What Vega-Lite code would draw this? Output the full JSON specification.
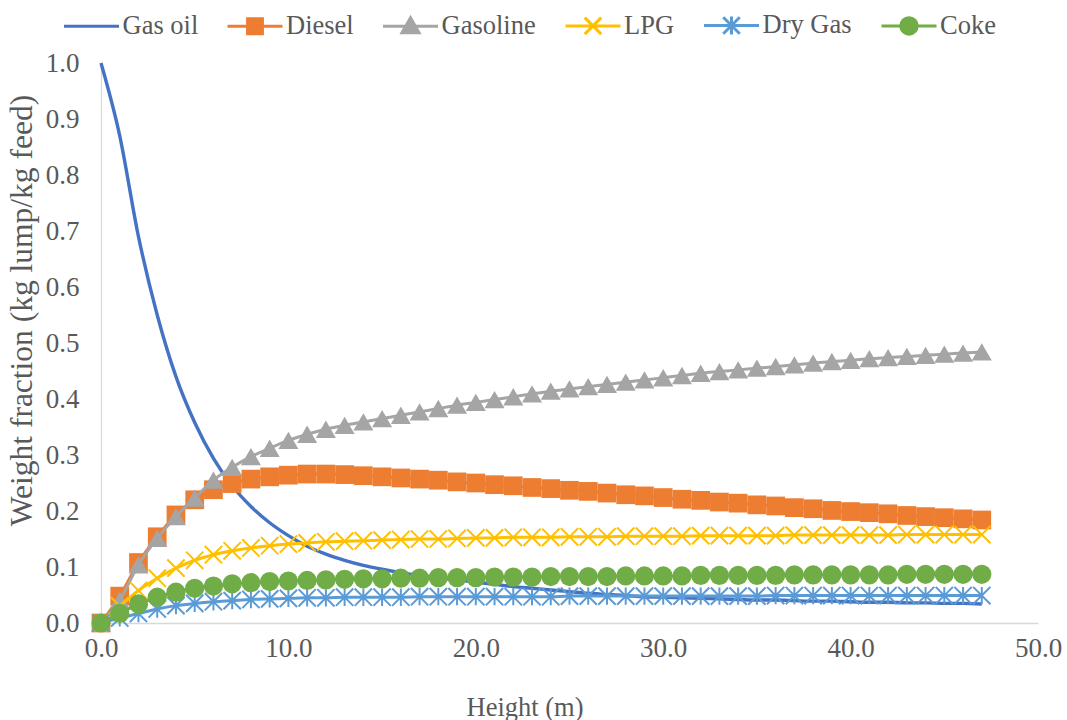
{
  "$schema": "https://vega.github.io/schema/vega-lite/v6.json",
  "width": 937,
  "height": 560,
  "autosize": {"type": "none"},
  "padding": {"left": 101, "top": 63, "right": 29, "bottom": 97},
  "background": "white",
  "config": {
    "view": {"stroke": null},
    "font": "'Liberation Serif', 'Times New Roman', serif",
    "axis": {
      "grid": false,
      "ticks": false,
      "domainColor": "#d9d9d9",
      "domainWidth": 1.3,
      "labelFont": "'Liberation Serif', 'Times New Roman', serif",
      "labelFontSize": 27,
      "labelColor": "#595959",
      "titleFont": "'Liberation Serif', 'Times New Roman', serif",
      "titleColor": "#595959",
      "titleFontWeight": "normal"
    },
    "legend": {
      "orient": "none",
      "legendX": -38.5,
      "legendY": -67,
      "direction": "horizontal",
      "padding": 0,
      "labelFont": "'Liberation Serif', 'Times New Roman', serif",
      "labelFontSize": 26.5,
      "labelColor": "#595959",
      "symbolSize": 3025,
      "symbolStrokeWidth": 3,
      "symbolOpacity": 1,
      "labelOffset": 2,
      "columnPadding": 22.5,
      "labelLimit": 300
    }
  },
  "data": {
    "values": [
      {"h": 0, "Gas oil": 1.000, "Diesel": 0.000, "Gasoline": 0.000, "LPG": 0.000, "Dry Gas": 0.000, "Coke": 0.000},
      {"h": 1, "Gas oil": 0.870, "Diesel": 0.048, "Gasoline": 0.041, "LPG": 0.030, "Dry Gas": 0.009, "Coke": 0.017},
      {"h": 2, "Gas oil": 0.690, "Diesel": 0.108, "Gasoline": 0.104, "LPG": 0.058, "Dry Gas": 0.017, "Coke": 0.034},
      {"h": 3, "Gas oil": 0.550, "Diesel": 0.154, "Gasoline": 0.151, "LPG": 0.080, "Dry Gas": 0.025, "Coke": 0.046},
      {"h": 4, "Gas oil": 0.440, "Diesel": 0.193, "Gasoline": 0.190, "LPG": 0.098, "Dry Gas": 0.031, "Coke": 0.055},
      {"h": 5, "Gas oil": 0.358, "Diesel": 0.220, "Gasoline": 0.223, "LPG": 0.112, "Dry Gas": 0.035, "Coke": 0.062},
      {"h": 6, "Gas oil": 0.294, "Diesel": 0.238, "Gasoline": 0.255, "LPG": 0.122, "Dry Gas": 0.038, "Coke": 0.066},
      {"h": 7, "Gas oil": 0.245, "Diesel": 0.249, "Gasoline": 0.278, "LPG": 0.129, "Dry Gas": 0.040, "Coke": 0.070},
      {"h": 8, "Gas oil": 0.208, "Diesel": 0.257, "Gasoline": 0.297, "LPG": 0.134, "Dry Gas": 0.042, "Coke": 0.072},
      {"h": 9, "Gas oil": 0.179, "Diesel": 0.261, "Gasoline": 0.312, "LPG": 0.138, "Dry Gas": 0.043, "Coke": 0.074},
      {"h": 10, "Gas oil": 0.156, "Diesel": 0.264, "Gasoline": 0.326, "LPG": 0.141, "Dry Gas": 0.044, "Coke": 0.075},
      {"h": 11, "Gas oil": 0.137, "Diesel": 0.266, "Gasoline": 0.337, "LPG": 0.143, "Dry Gas": 0.045, "Coke": 0.076},
      {"h": 12, "Gas oil": 0.123, "Diesel": 0.266, "Gasoline": 0.346, "LPG": 0.145, "Dry Gas": 0.045, "Coke": 0.077},
      {"h": 13, "Gas oil": 0.112, "Diesel": 0.265, "Gasoline": 0.353, "LPG": 0.146, "Dry Gas": 0.046, "Coke": 0.078},
      {"h": 14, "Gas oil": 0.103, "Diesel": 0.263, "Gasoline": 0.359, "LPG": 0.147, "Dry Gas": 0.046, "Coke": 0.079},
      {"h": 15, "Gas oil": 0.096, "Diesel": 0.261, "Gasoline": 0.365, "LPG": 0.148, "Dry Gas": 0.046, "Coke": 0.079},
      {"h": 16, "Gas oil": 0.090, "Diesel": 0.259, "Gasoline": 0.371, "LPG": 0.149, "Dry Gas": 0.046, "Coke": 0.080},
      {"h": 17, "Gas oil": 0.085, "Diesel": 0.257, "Gasoline": 0.377, "LPG": 0.150, "Dry Gas": 0.047, "Coke": 0.080},
      {"h": 18, "Gas oil": 0.081, "Diesel": 0.255, "Gasoline": 0.383, "LPG": 0.150, "Dry Gas": 0.047, "Coke": 0.081},
      {"h": 19, "Gas oil": 0.077, "Diesel": 0.252, "Gasoline": 0.389, "LPG": 0.151, "Dry Gas": 0.047, "Coke": 0.081},
      {"h": 20, "Gas oil": 0.073, "Diesel": 0.250, "Gasoline": 0.394, "LPG": 0.152, "Dry Gas": 0.047, "Coke": 0.081},
      {"h": 21, "Gas oil": 0.069, "Diesel": 0.247, "Gasoline": 0.399, "LPG": 0.152, "Dry Gas": 0.047, "Coke": 0.082},
      {"h": 22, "Gas oil": 0.065, "Diesel": 0.245, "Gasoline": 0.404, "LPG": 0.153, "Dry Gas": 0.047, "Coke": 0.082},
      {"h": 23, "Gas oil": 0.062, "Diesel": 0.242, "Gasoline": 0.409, "LPG": 0.153, "Dry Gas": 0.047, "Coke": 0.082},
      {"h": 24, "Gas oil": 0.059, "Diesel": 0.240, "Gasoline": 0.414, "LPG": 0.153, "Dry Gas": 0.047, "Coke": 0.083},
      {"h": 25, "Gas oil": 0.056, "Diesel": 0.237, "Gasoline": 0.418, "LPG": 0.154, "Dry Gas": 0.048, "Coke": 0.083},
      {"h": 26, "Gas oil": 0.053, "Diesel": 0.235, "Gasoline": 0.422, "LPG": 0.154, "Dry Gas": 0.048, "Coke": 0.083},
      {"h": 27, "Gas oil": 0.051, "Diesel": 0.232, "Gasoline": 0.426, "LPG": 0.154, "Dry Gas": 0.048, "Coke": 0.083},
      {"h": 28, "Gas oil": 0.049, "Diesel": 0.229, "Gasoline": 0.430, "LPG": 0.155, "Dry Gas": 0.048, "Coke": 0.084},
      {"h": 29, "Gas oil": 0.047, "Diesel": 0.227, "Gasoline": 0.434, "LPG": 0.155, "Dry Gas": 0.048, "Coke": 0.084},
      {"h": 30, "Gas oil": 0.046, "Diesel": 0.224, "Gasoline": 0.438, "LPG": 0.155, "Dry Gas": 0.048, "Coke": 0.084},
      {"h": 31, "Gas oil": 0.045, "Diesel": 0.221, "Gasoline": 0.442, "LPG": 0.155, "Dry Gas": 0.048, "Coke": 0.084},
      {"h": 32, "Gas oil": 0.044, "Diesel": 0.219, "Gasoline": 0.446, "LPG": 0.156, "Dry Gas": 0.048, "Coke": 0.085},
      {"h": 33, "Gas oil": 0.043, "Diesel": 0.216, "Gasoline": 0.449, "LPG": 0.156, "Dry Gas": 0.048, "Coke": 0.085},
      {"h": 34, "Gas oil": 0.042, "Diesel": 0.214, "Gasoline": 0.452, "LPG": 0.156, "Dry Gas": 0.048, "Coke": 0.085},
      {"h": 35, "Gas oil": 0.041, "Diesel": 0.211, "Gasoline": 0.455, "LPG": 0.156, "Dry Gas": 0.048, "Coke": 0.085},
      {"h": 36, "Gas oil": 0.041, "Diesel": 0.209, "Gasoline": 0.458, "LPG": 0.156, "Dry Gas": 0.049, "Coke": 0.085},
      {"h": 37, "Gas oil": 0.040, "Diesel": 0.206, "Gasoline": 0.461, "LPG": 0.157, "Dry Gas": 0.049, "Coke": 0.086},
      {"h": 38, "Gas oil": 0.039, "Diesel": 0.204, "Gasoline": 0.464, "LPG": 0.157, "Dry Gas": 0.049, "Coke": 0.086},
      {"h": 39, "Gas oil": 0.039, "Diesel": 0.201, "Gasoline": 0.467, "LPG": 0.157, "Dry Gas": 0.049, "Coke": 0.086},
      {"h": 40, "Gas oil": 0.038, "Diesel": 0.199, "Gasoline": 0.469, "LPG": 0.157, "Dry Gas": 0.049, "Coke": 0.086},
      {"h": 41, "Gas oil": 0.037, "Diesel": 0.197, "Gasoline": 0.472, "LPG": 0.157, "Dry Gas": 0.049, "Coke": 0.086},
      {"h": 42, "Gas oil": 0.037, "Diesel": 0.195, "Gasoline": 0.474, "LPG": 0.157, "Dry Gas": 0.049, "Coke": 0.086},
      {"h": 43, "Gas oil": 0.036, "Diesel": 0.192, "Gasoline": 0.476, "LPG": 0.158, "Dry Gas": 0.049, "Coke": 0.087},
      {"h": 44, "Gas oil": 0.036, "Diesel": 0.190, "Gasoline": 0.478, "LPG": 0.158, "Dry Gas": 0.049, "Coke": 0.087},
      {"h": 45, "Gas oil": 0.035, "Diesel": 0.188, "Gasoline": 0.480, "LPG": 0.158, "Dry Gas": 0.049, "Coke": 0.087},
      {"h": 46, "Gas oil": 0.035, "Diesel": 0.186, "Gasoline": 0.482, "LPG": 0.158, "Dry Gas": 0.049, "Coke": 0.087},
      {"h": 47, "Gas oil": 0.034, "Diesel": 0.184, "Gasoline": 0.484, "LPG": 0.158, "Dry Gas": 0.049, "Coke": 0.087}
    ]
  },
  "transform": [
    {"fold": ["Gas oil", "Diesel", "Gasoline", "LPG", "Dry Gas", "Coke"], "as": ["series", "value"]}
  ],
  "encoding": {
    "x": {
      "field": "h",
      "type": "quantitative",
      "scale": {"domain": [0, 50], "nice": false, "zero": false},
      "axis": {
        "values": [0, 10, 20, 30, 40, 50],
        "format": ".1f",
        "title": "Height (m)",
        "labelFont": "'Liberation Serif', 'Times New Roman', serif",
        "titleFont": "'Liberation Serif', 'Times New Roman', serif",
        "labelPadding": 12,
        "labelFlush": false,
        "labelOverlap": false,
        "titleFontSize": 26.5,
        "titleX": 423.5,
        "titleY": 84,
        "titleBaseline": "middle",
        "titleAlign": "center"
      }
    },
    "y": {
      "field": "value",
      "type": "quantitative",
      "scale": {"domain": [0, 1], "nice": false},
      "axis": {
        "values": [0, 0.1, 0.2, 0.3, 0.4, 0.5, 0.6, 0.7, 0.8, 0.9, 1.0],
        "format": ".1f",
        "title": "Weight fraction (kg lump/kg feed)",
        "labelFont": "'Liberation Serif', 'Times New Roman', serif",
        "titleFont": "'Liberation Serif', 'Times New Roman', serif",
        "labelPadding": 22,
        "labelFlush": false,
        "labelOverlap": false,
        "titleFontSize": 31.5,
        "titleX": -79,
        "titleY": 247,
        "titleBaseline": "middle",
        "titleAlign": "center"
      }
    },
    "color": {
      "field": "series",
      "type": "nominal",
      "scale": {
        "domain": ["Gas oil", "Diesel", "Gasoline", "LPG", "Dry Gas", "Coke"],
        "range": ["#4472C4", "#ED7D31", "#A5A5A5", "#FFC000", "#5B9BD5", "#70AD47"]
      },
      "legend": null
    }
  },
  "layer": [
    {
      "transform": [{"filter": "datum.h == 0"}],
      "mark": {"type": "point", "filled": true, "opacity": 0},
      "encoding": {
        "color": {
          "field": "series",
          "type": "nominal",
          "scale": {
            "domain": ["Gas oil", "Diesel", "Gasoline", "LPG", "Dry Gas", "Coke"],
            "range": ["#4472C4", "#ED7D31", "#A5A5A5", "#FFC000", "#5B9BD5", "#70AD47"]
          },
          "legend": {"title": null, "orient": "none", "direction": "horizontal", "legendX": -38.5, "legendY": -67, "symbolOpacity": 1, "columnPadding": 22.5, "labelFont": "'Liberation Serif', 'Times New Roman', serif"}
        },
        "stroke": {
          "field": "series",
          "type": "nominal",
          "scale": {
            "domain": ["Gas oil", "Diesel", "Gasoline", "LPG", "Dry Gas", "Coke"],
            "range": ["#4472C4", "#ED7D31", "#A5A5A5", "#FFC000", "#5B9BD5", "#70AD47"]
          },
          "legend": {"title": null, "orient": "none", "direction": "horizontal", "legendX": -38.5, "legendY": -67, "symbolOpacity": 1, "columnPadding": 22.5, "labelFont": "'Liberation Serif', 'Times New Roman', serif"}
        },
        "shape": {
          "field": "series",
          "type": "nominal",
          "scale": {
            "domain": ["Gas oil", "Diesel", "Gasoline", "LPG", "Dry Gas", "Coke"],
            "range": [
              "M-1,0H1",
              "M-1,0H1M-0.27,-0.27H0.27V0.27H-0.27Z",
              "M-1,0H1M0,-0.31L0.31,0.24L-0.31,0.24Z",
              "M-1,0H1M-0.3,-0.3L0.3,0.3M-0.3,0.3L0.3,-0.3",
              "M-1,0H1M-0.3,-0.3L0.3,0.3M-0.3,0.3L0.3,-0.3M0,-0.33V0.33",
              "M-1,0H1M0.3,0A0.3,0.3 0 1,1 -0.3,0A0.3,0.3 0 1,1 0.3,0Z"
            ]
          },
          "legend": {"title": null, "orient": "none", "direction": "horizontal", "legendX": -38.5, "legendY": -67, "symbolOpacity": 1, "columnPadding": 22.5, "labelFont": "'Liberation Serif', 'Times New Roman', serif"}
        }
      }
    },
    {
      "transform": [{"filter": "datum.series == 'Gas oil'"}],
      "mark": {"type": "line", "interpolate": "monotone", "strokeWidth": 3.4}
    },
    {
      "transform": [{"filter": "datum.series == 'Diesel'"}],
      "mark": {"type": "line", "interpolate": "monotone", "strokeWidth": 3}
    },
    {
      "transform": [{"filter": "datum.series == 'Diesel'"}],
      "mark": {"type": "point", "shape": "square", "filled": true, "size": 350, "opacity": 1}
    },
    {
      "transform": [{"filter": "datum.series == 'Gasoline'"}],
      "mark": {"type": "line", "interpolate": "monotone", "strokeWidth": 3}
    },
    {
      "transform": [{"filter": "datum.series == 'Gasoline'"}],
      "mark": {"type": "point", "shape": "triangle-up", "filled": true, "size": 400, "opacity": 1}
    },
    {
      "transform": [{"filter": "datum.series == 'LPG'"}],
      "mark": {"type": "line", "interpolate": "monotone", "strokeWidth": 3}
    },
    {
      "transform": [{"filter": "datum.series == 'LPG'"}],
      "mark": {"type": "point", "shape": "M-1,-1L1,1M-1,1L1,-1", "filled": false, "size": 300, "strokeWidth": 2, "opacity": 1}
    },
    {
      "transform": [{"filter": "datum.series == 'Dry Gas'"}],
      "mark": {"type": "line", "interpolate": "monotone", "strokeWidth": 3}
    },
    {
      "transform": [{"filter": "datum.series == 'Dry Gas'"}],
      "mark": {"type": "point", "shape": "M-1,-1L1,1M-1,1L1,-1M0,-1V1", "filled": false, "size": 300, "strokeWidth": 2, "opacity": 1}
    },
    {
      "transform": [{"filter": "datum.series == 'Coke'"}],
      "mark": {"type": "line", "interpolate": "monotone", "strokeWidth": 3}
    },
    {
      "transform": [{"filter": "datum.series == 'Coke'"}],
      "mark": {"type": "point", "shape": "circle", "filled": true, "size": 370, "opacity": 1}
    }
  ]
}
